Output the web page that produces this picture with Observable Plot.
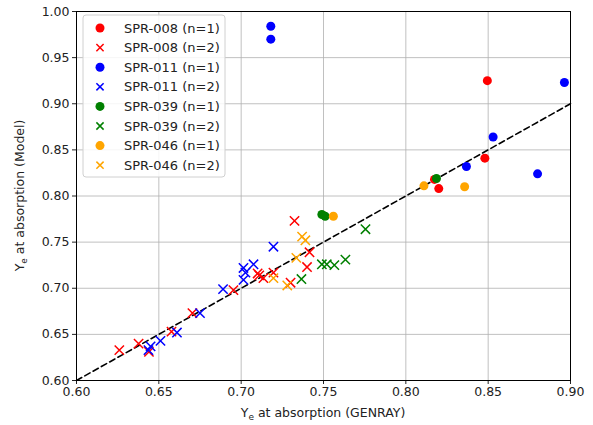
<!DOCTYPE html>
<html><head><meta charset="utf-8">
<script src="https://cdn.jsdelivr.net/npm/d3@7"></script>
<script src="https://cdn.jsdelivr.net/npm/@observablehq/plot@0.6"></script>
<style>body{margin:0;background:#fff;font-family:"DejaVu Sans",sans-serif}</style>
</head><body><div id="chart"></div>
<script>
const seriesNames = ["SPR-008 (n=1)","SPR-008 (n=2)","SPR-011 (n=1)","SPR-011 (n=2)","SPR-039 (n=1)","SPR-039 (n=2)","SPR-046 (n=1)","SPR-046 (n=2)"];
const seriesColors = ["red","red","blue","blue","green","green","orange","orange"];
const seriesSymbols = ["circle","times","circle","times","circle","times","circle","times"];

const spr008n1X = [0.848, 0.8495, 0.8174, 0.820];
const spr008n1Y = [0.841, 0.925, 0.818, 0.808];
const spr008n2X = [0.626, 0.6377, 0.644, 0.6577, 0.6704, 0.6953, 0.710, 0.711, 0.7135, 0.7196, 0.730, 0.7324, 0.740, 0.7415];
const spr008n2Y = [0.633, 0.640, 0.631, 0.653, 0.673, 0.698, 0.716, 0.714, 0.711, 0.717, 0.706, 0.773, 0.723, 0.739];
const spr011n1X = [0.718, 0.718, 0.8368, 0.853, 0.880, 0.8963];
const spr011n1Y = [0.984, 0.970, 0.832, 0.864, 0.824, 0.923];
const spr011n2X = [0.645, 0.6437, 0.651, 0.661, 0.675, 0.689, 0.7014, 0.7026, 0.7014, 0.7075, 0.7196];
const spr011n2Y = [0.637, 0.633, 0.643, 0.652, 0.673, 0.699, 0.722, 0.717, 0.709, 0.726, 0.745];
const spr039n1X = [0.749, 0.751, 0.8186];
const spr039n1Y = [0.780, 0.778, 0.819];
const spr039n2X = [0.7366, 0.749, 0.752, 0.7566, 0.7633, 0.7755];
const spr039n2Y = [0.710, 0.726, 0.726, 0.725, 0.731, 0.764];
const spr046n1X = [0.756, 0.811, 0.8357];
const spr046n1Y = [0.778, 0.811, 0.810];
const spr046n2X = [0.7196, 0.728, 0.7335, 0.737, 0.739];
const spr046n2Y = [0.711, 0.703, 0.733, 0.756, 0.752];

const xTicks = [0.60,0.65,0.70,0.75,0.80,0.85,0.90];
const yTicks = [0.60,0.65,0.70,0.75,0.80,0.85,0.90,0.95,1.00];
const diagonal = [0.6, 0.9];

const allX = [spr008n1X,spr008n2X,spr011n1X,spr011n2X,spr039n1X,spr039n2X,spr046n1X,spr046n2X];
const allY = [spr008n1Y,spr008n2Y,spr011n1Y,spr011n2Y,spr039n1Y,spr039n2Y,spr046n1Y,spr046n2Y];
const series = allX.map((xs,i)=>xs.map((x,j)=>({x, y: allY[i][j], s: i})));

const W=593,H=425,mL=76,mR=23,mT=11,mB=45;
const FS=12.5;
const dotMarks = series.map((pts,i)=> seriesSymbols[i]==="circle"
  ? Plot.dot(pts,{x:"x",y:"y",r:4.5,fill:seriesColors[i],stroke:"none"})
  : Plot.dot(pts,{x:"x",y:"y",r:4.3,symbol:"times",stroke:seriesColors[i],strokeWidth:1.5,fill:"none"}));

const plot = Plot.plot({
  width:W,height:H,marginLeft:mL,marginRight:mR,marginTop:mT,marginBottom:mB,
  style:{fontFamily:"DejaVu Sans",fontSize:FS+"px",color:"#222",background:"#fff"},
  x:{domain:[0.6,0.9]},
  y:{domain:[0.6,1.0]},
  marks:[
    Plot.gridX(xTicks,{stroke:"#b0b0b0",strokeOpacity:1,strokeWidth:0.8}),
    Plot.gridY(yTicks,{stroke:"#b0b0b0",strokeOpacity:1,strokeWidth:0.8}),
    Plot.axisX(xTicks,{tickFormat:d3.format(".2f"),tickSize:4,label:null,fontSize:FS,tickPadding:3}),
    Plot.axisY(yTicks,{tickFormat:d3.format(".2f"),tickSize:4,label:null,fontSize:FS,tickPadding:3}),
    Plot.line(diagonal,{x:d=>d,y:d=>d,stroke:"black",strokeWidth:1.6,strokeDasharray:"6,3.5"}),
    ...dotMarks,
    Plot.frame({stroke:"black",strokeWidth:1})
  ]
});
document.getElementById("chart").appendChild(plot);
const svg = d3.select(plot);
// axis labels
const xl = svg.append("text").attr("x",(mL+W-mR)/2).attr("y",H-8).attr("text-anchor","middle")
  .attr("font-family","DejaVu Sans").attr("font-size",FS).attr("fill","#222");
xl.append("tspan").text("Y");
xl.append("tspan").attr("font-size",9).attr("dy",3).text("e");
xl.append("tspan").attr("dy",-3).text(" at absorption (GENRAY)");
const yl = svg.append("text").attr("transform",`translate(24,${(mT+H-mB)/2}) rotate(-90)`).attr("text-anchor","middle")
  .attr("font-family","DejaVu Sans").attr("font-size",FS).attr("fill","#222");
yl.append("tspan").text("Y");
yl.append("tspan").attr("font-size",9).attr("dy",3).text("e");
yl.append("tspan").attr("dy",-3).text(" at absorption (Model)");
// legend
const lg = svg.append("g").attr("text-anchor","start");
lg.append("rect").attr("x",83).attr("y",15).attr("width",142).attr("height",162).attr("rx",3)
  .attr("fill","white").attr("fill-opacity",0.85).attr("stroke","#d0d0d0");
seriesNames.forEach((name,i)=>{
  const cy = 28 + i*19.6;
  if(seriesSymbols[i]==="circle"){
    lg.append("circle").attr("cx",100).attr("cy",cy).attr("r",4.5).attr("fill",seriesColors[i]);
  } else {
    const s=3.6;
    lg.append("path").attr("d",`M${100-s},${cy-s}L${100+s},${cy+s}M${100-s},${cy+s}L${100+s},${cy-s}`)
      .attr("stroke",seriesColors[i]).attr("stroke-width",1.5);
  }
  lg.append("text").attr("x",124).attr("y",cy+4.5).attr("text-anchor","start").attr("font-family","DejaVu Sans").attr("font-size",13)
    .attr("fill","#222").text(name);
});
</script></body></html>
